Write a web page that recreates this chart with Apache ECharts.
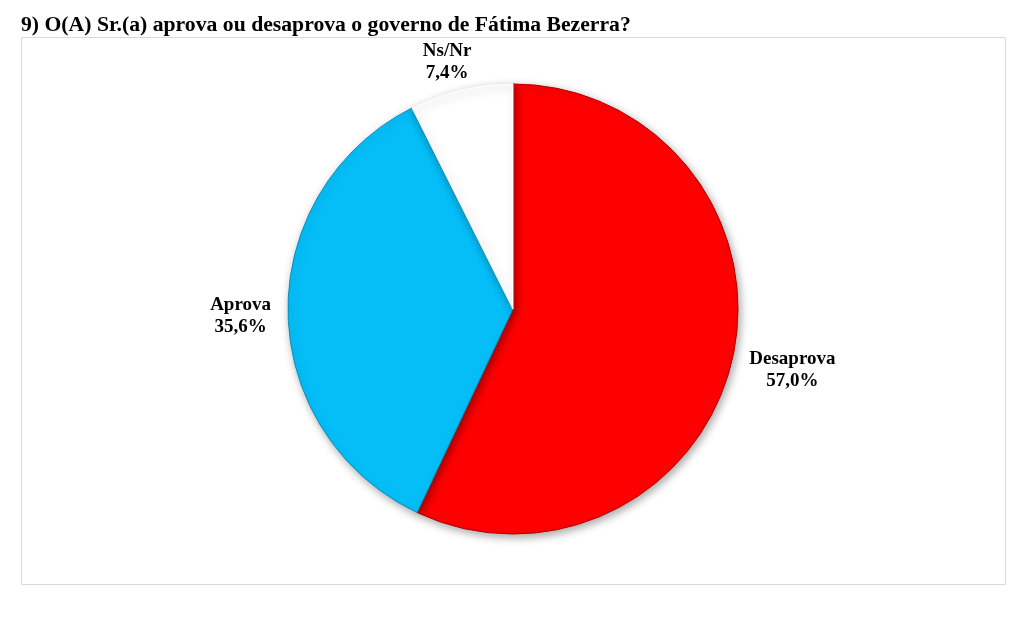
<!DOCTYPE html>
<html>
<head>
<meta charset="utf-8">
<script src="https://cdn.jsdelivr.net/npm/echarts@6/dist/echarts.min.js"></script>
<style>
html, body { margin: 0; padding: 0; background: #fff; }
#chart { width: 1024px; height: 619px; }
</style>
</head>
<body>
<div id="chart"></div>
<script>
const categories = ["Desaprova", "Aprova", "Ns/Nr"];
const values = [57.0, 35.6, 7.4];
const colors = ["#FF0000", "#05BEF8", "#FFFFFF"];
const edgeColors = ["#B00000", "#078DBA", "#FFFFFF"];

const serif = "'Liberation Serif', 'Times New Roman', serif";

function fmtPct(v) {
    return v.toFixed(1).replace(".", ",") + "%";
}

const pieData = categories.map(function (name, i) {
    return {
        name: name,
        value: values[i],
        itemStyle: { color: colors[i], borderColor: edgeColors[i] }
    };
});

let chart = echarts.init(document.getElementById("chart"));

chart.setOption({
    backgroundColor: "#ffffff",
    animation: false,
    title: {
        text: "9) O(A) Sr.(a) aprova ou desaprova o governo de Fátima Bezerra?",
        left: 16,
        top: 9,
        textStyle: { fontFamily: serif, fontWeight: "bold", fontSize: 21.7, color: "#000" }
    },
    graphic: [{
        type: "rect",
        z: -1,
        shape: { x: 21.5, y: 37.5, width: 984, height: 547 },
        style: { fill: "none", stroke: "#d9d9d9", lineWidth: 1 }
    }],
    series: [{
        type: "pie",
        center: [513, 309],
        radius: 225,
        startAngle: 90,
        clockwise: true,
        data: pieData,
        itemStyle: {
            borderWidth: 1,
            shadowBlur: 8,
            shadowColor: "rgba(0,0,0,0.35)",
            shadowOffsetX: 2,
            shadowOffsetY: 3
        },
        label: {
            position: "outside",
            formatter: function (p) {
                return "{a|" + p.name + "}\n{a|" + fmtPct(p.value) + "}";
            },
            rich: {
                a: { fontFamily: serif, fontWeight: "bold", fontSize: 19, color: "#000", align: "center", lineHeight: 22 }
            }
        },
        labelLine: { show: false, length: 12, length2: 0 },
        labelLayout: function (p) {
            if (p.dataIndex === 2) return { dx: 18, dy: -16 };
            if (p.dataIndex === 1) return { dx: 0, dy: 4 };
            return { dy: 9 };
        }
    }]
});
</script>
</body>
</html>
